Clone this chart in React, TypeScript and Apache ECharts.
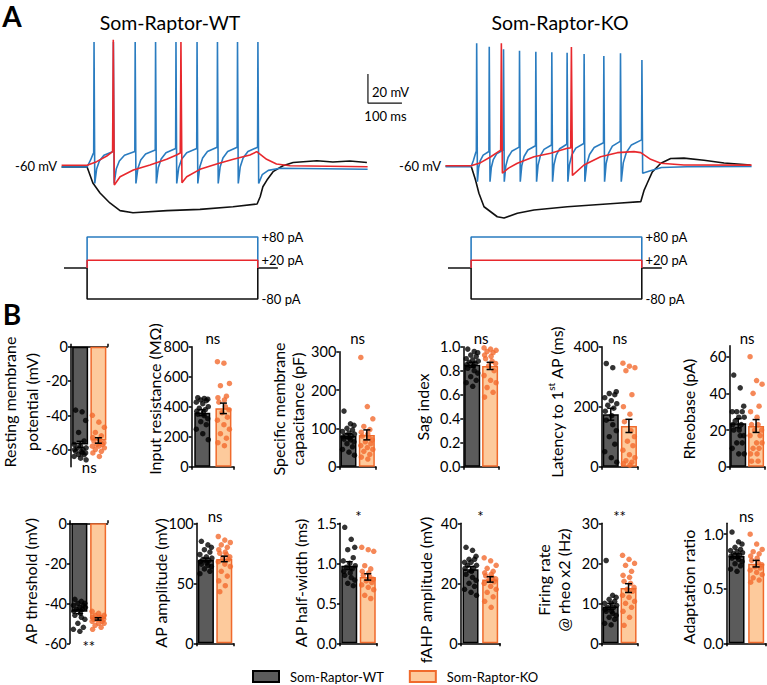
import React, { useEffect, useRef } from 'react';
import * as echarts from 'echarts';

const FONT = 'Lato, "Open Sans", sans-serif';
const BLUE = '#2a7cc0';
const RED = '#e8282d';
const INK = '#111111';
const WT_FILL = '#5b5b5b';
const KO_FILL = '#fdca9c';
const KO_EDGE = '#f06a2c';
const KO_DOT = '#f26a2e';

// ---------------- Panel A : voltage traces (ms, mV) ----------------
const stepOnMs = 65;
const stepOffMs = 567;

// WT, +80 pA (blue)
const wtBlueSpikeTimes = [85, 142, 206, 266, 326, 388, 448, 507, 567];
const wtBlueSpikePeaks = [25.5, 25.5, 25.5, 25.5, 25.5, 25.5, 25.5, 25.5, 25.5];
const wtBlueThresholds = [-51, -50, -50, -49, -48, -48, -47, -47, -47];
const wtBlueTroughs = [-72, -72, -72, -72, -72, -72, -72, -72, -72];
const wtBlueBefore: [number, number][] = [[-10, -60.7], [65, -60.7], [75, -56], [83, -51.5]];
const wtBlueAfter: [number, number][] = [[580, -66], [598, -63], [632, -61.5], [890, -62.2]];

// KO, +80 pA (blue)
const koBlueSpikeTimes = [81, 118, 160, 207, 255, 302, 347, 397, 455, 504, 567];
const koBlueSpikePeaks = [24.6, 22.3, 20.5, 19.5, 18.8, 18.4, 18.1, 17.2, 15.9, 17.7, 13.1];
const koBlueThresholds = [-50, -50, -49, -47, -46, -45.5, -45, -44.5, -44, -43, -42];
const koBlueTroughs = [-70.8, -70.8, -70.8, -70.8, -70.8, -70.8, -70.8, -70.8, -70.8, -70.8, -65];
const koBlueBefore: [number, number][] = [[-10, -60.5], [65, -60.5], [72, -56], [79, -50.5]];
const koBlueAfter: [number, number][] = [[590, -63.5], [625, -61], [700, -60.5], [890, -60.3]];

// +20 pA (red)
const wtRed: [number, number][] = [[-10, -59.5], [65, -59.5], [93, -57], [123, -53.1], [140, -50.1], [142, 27], [145, -73.1], [162, -67.4], [201, -62.8], [250, -59.3], [299, -55.4], [328, -52.4], [339, -51], [341, 25.5], [344, -71.5], [358, -67.4], [397, -62.3], [446, -58.6], [495, -55.4], [544, -52.4], [564, -50.1], [593, -55.4], [622, -58.6], [662, -59.8], [890, -60.5]];
const koRed: [number, number][] = [[-10, -59.8], [65, -59.8], [93, -57.7], [123, -53.6], [152, -49], [154, 24.6], [157, -65], [175, -61.5], [201, -58.1], [250, -53.6], [299, -51.2], [348, -47.8], [358, -47.5], [360, 22], [363, -66.5], [397, -59.3], [446, -53.6], [495, -50.8], [544, -50.1], [564, -50.8], [593, -55.4], [623, -58.1], [691, -59.3], [890, -59.4]];

// -80 pA (black)
const wtBlack: [number, number][] = [[-10, -60.7], [65, -60.7], [82, -71.7], [103, -78.6], [132, -85.5], [162, -90.8], [200, -92.2], [300, -90.8], [397, -89.9], [494, -88.1], [565, -86.2], [574, -81.2], [582, -74.3], [594, -69.7], [612, -63.9], [641, -59.8], [671, -57.6], [741, -56.4], [788, -57.2], [838, -56.6], [888, -57.6]];
const koBlack: [number, number][] = [[-10, -60], [65, -60], [78, -69.7], [88, -78.8], [103, -88.1], [142, -95], [162, -95.9], [201, -92.6], [250, -90.3], [348, -88.1], [495, -85.7], [564, -84.6], [574, -76.6], [583, -71.9], [598, -64.1], [623, -58.1], [652, -54.8], [691, -54.6], [750, -56], [809, -57.9], [887, -59.3]];

// current steps (pA)
const stimAmps = [-80, 80, 20];
const stimBaseStart = -3;
const stimBaseEnd = 626;

// scale bar
const scaleBarMv = 20;
const scaleBarMs = 100;
const scaleBarOrigin: [number, number] = [891, -16.6];

// ---------------- Panel B : data ----------------
const rmpWT = [-37, -38, -43, -50, -55, -57, -58, -59, -59, -60, -60, -61, -61, -62, -62, -63, -63, -64, -65, -66];
const rmpKO = [-40, -44, -47, -50, -52, -53, -54, -55, -56, -56, -57, -57, -58, -58, -59, -60, -61, -62, -64];
const rinWT = [460, 455, 450, 445, 440, 430, 420, 400, 390, 380, 370, 360, 350, 340, 320, 300, 280, 250, 220, 180];
const rinKO = [700, 690, 555, 540, 470, 460, 445, 430, 400, 380, 360, 330, 310, 280, 250, 220, 190, 160, 140];
const capWT = [145, 112, 108, 100, 96, 92, 88, 85, 82, 80, 78, 75, 72, 70, 65, 60, 52, 45, 38, 30];
const capKO = [285, 157, 125, 105, 97, 90, 85, 80, 75, 70, 65, 60, 55, 50, 45, 40, 32, 25, 20];
const sagWT = [0.98, 0.96, 0.95, 0.93, 0.92, 0.9, 0.89, 0.88, 0.87, 0.86, 0.85, 0.84, 0.82, 0.8, 0.78, 0.75, 0.72, 0.7, 0.67];
const sagKO = [0.99, 0.98, 0.97, 0.96, 0.95, 0.93, 0.92, 0.9, 0.88, 0.86, 0.84, 0.8, 0.76, 0.72, 0.7, 0.66, 0.62, 0.58];
const latWT = [344, 330, 250, 244, 240, 230, 220, 210, 205, 195, 185, 170, 155, 140, 120, 100, 75, 50, 30, 15];
const latKO = [345, 335, 330, 320, 240, 200, 175, 150, 120, 100, 85, 70, 55, 40, 30, 20, 15, 10, 5];
const rheoWT = [50, 43, 33, 30, 30, 30, 27, 27, 25, 23, 23, 20, 20, 17, 17, 13, 13, 10, 7, 7];
const rheoKO = [60, 47, 45, 40, 33, 30, 27, 23, 23, 20, 20, 17, 17, 13, 13, 10, 10, 7, 7, 3, 3];
const thrWT = [-38, -39, -40, -40, -41, -41, -42, -42, -43, -43, -44, -45, -46, -47, -48, -50, -52, -53, -54];
const thrKO = [-44, -45, -46, -46, -47, -47, -47, -48, -48, -48, -48, -49, -49, -50, -50, -51, -52, -53];
const ampWT = [85, 82, 80, 78, 76, 74, 72, 71, 70, 69, 68, 67, 66, 65, 64, 62, 60, 58];
const ampKO = [89, 86, 84, 82, 80, 78, 76, 75, 74, 72, 71, 70, 68, 66, 64, 60, 56, 52, 48, 43];
const hwWT = [1.45, 1.3, 1.2, 1.17, 1.07, 1.03, 1.0, 0.97, 0.95, 0.93, 0.9, 0.88, 0.85, 0.82, 0.79, 0.75, 0.72];
const hwKO = [1.2, 1.17, 1.15, 0.97, 0.93, 0.9, 0.88, 0.85, 0.83, 0.8, 0.78, 0.76, 0.73, 0.7, 0.67, 0.6, 0.56];
const fahpWT = [32, 31, 29, 28, 28, 27, 27, 26, 26, 25, 25, 24, 23, 22, 21, 20, 19, 18, 17, 16];
const fahpKO = [28.5, 27.5, 26, 25, 24, 23.5, 23, 22.5, 22, 21.5, 21, 20.5, 20, 19, 18, 17, 15.5, 14, 12];
const frWT = [20.7, 12, 11.5, 11, 10.5, 10, 10, 9.5, 9, 9, 8.5, 8, 8, 7.5, 7, 6.5, 6, 5, 4.6];
const frKO = [22, 21, 20, 19.5, 18, 17, 16.5, 15.5, 15, 14, 13.5, 13, 12, 11.5, 10.5, 10, 9, 8, 6.5, 4.5];
const adWT = [1.02, 0.93, 0.91, 0.88, 0.86, 0.85, 0.84, 0.83, 0.82, 0.81, 0.8, 0.79, 0.78, 0.77, 0.75, 0.73, 0.71, 0.68, 0.66];
const adKO = [1.0, 0.91, 0.86, 0.84, 0.82, 0.8, 0.78, 0.76, 0.74, 0.72, 0.7, 0.69, 0.67, 0.65, 0.63, 0.6, 0.58, 0.56];

const meansWT = [-57, 360, 80, 0.85, 175, 23.7, -44.2, 69.4, 0.97, 24.7, 9.2, 0.8];
const meansKO = [-54.7, 389, 83, 0.84, 136, 22.2, -47.8, 70.3, 0.83, 21.3, 13.8, 0.73];
const semWT = [1.8, 20, 6, 0.02, 20, 2.5, 1.0, 1.6, 0.05, 0.9, 0.8, 0.02];
const semKO = [1.6, 35, 13, 0.03, 22, 3.5, 0.6, 2.3, 0.04, 0.9, 1.1, 0.03];

const metricLabels = [
  'Resting membrane\npotential (mV)', 'Input resistance (MΩ)', 'Specific membrane\ncapacitance (pF)', 'Sag index',
  'Latency to 1{s|st} AP (ms)', 'Rheobase (pA)', 'AP threshold (mV)', 'AP amplitude (mV)',
  'AP half-width (ms)', 'fAHP amplitude (mV)', 'Firing rate\n@ rheo x2 (Hz)', 'Adaptation ratio',
];
const significance = ['ns', 'ns', 'ns', 'ns', 'ns', 'ns', '**', 'ns', '*', '*', '**', 'ns'];
const yMins = [-70, 0, 0, 0, 0, 0, -60, 0, 0, 0, 0, 0];
const yMaxs = [0, 800, 300, 1, 400, 66, 0, 100, 1.5, 40, 30, 1.1];
const yTicks = [
  [-60, -40, -20, 0], [0, 200, 400, 600, 800], [0, 100, 200, 300], [0, 0.2, 0.4, 0.6, 0.8, 1],
  [0, 200, 400], [0, 20, 40, 60], [-60, -40, -20, 0], [0, 50, 100],
  [0, 0.5, 1, 1.5], [0, 20, 40], [0, 10, 20, 30], [0, 0.5, 1],
];
const tickDecimals = [0, 0, 0, 1, 0, 0, 0, 0, 1, 0, 0, 1];
const groupNames = ['Som-Raptor-WT', 'Som-Raptor-KO'];

const pointsWT = [rmpWT, rinWT, capWT, sagWT, latWT, rheoWT, thrWT, ampWT, hwWT, fahpWT, frWT, adWT];
const pointsKO = [rmpKO, rinKO, capKO, sagKO, latKO, rheoKO, thrKO, ampKO, hwKO, fahpKO, frKO, adKO];

// ---------------- layout (pixels) ----------------
const bLayout = [
  { axisX: 71, right: 107.5, top: 346.7, bottom: 466.7, nameX: 20.5, nameY: 402, lh: 22, sigY: 467 },
  { axisX: 191.7, right: 234, top: 346.7, bottom: 466.7, nameX: 154, nameY: 399, lh: 20, sigY: 338 },
  { axisX: 339.3, right: 376, top: 351.7, bottom: 466.7, nameX: 287.5, nameY: 409, lh: 19, sigY: 338 },
  { axisX: 463.3, right: 499, top: 346.7, bottom: 466.7, nameX: 422.5, nameY: 407, lh: 20, sigY: 338 },
  { axisX: 601.7, right: 638, top: 346.7, bottom: 466.7, nameX: 556, nameY: 402, lh: 20, sigY: 338 },
  { axisX: 729.3, right: 765, top: 345.7, bottom: 466.7, nameX: 688, nameY: 409, lh: 20, sigY: 338 },
  { axisX: 70, right: 107.5, top: 523.3, bottom: 643.3, nameX: 30, nameY: 581, lh: 20, sigY: 646 },
  { axisX: 196.7, right: 233.5, top: 523.3, bottom: 643.3, nameX: 160, nameY: 583, lh: 20, sigY: 516 },
  { axisX: 340, right: 377, top: 523.3, bottom: 643.3, nameX: 300, nameY: 583, lh: 20, sigY: 516 },
  { axisX: 460.7, right: 500, top: 523.3, bottom: 643.3, nameX: 425, nameY: 590, lh: 20, sigY: 516 },
  { axisX: 601.7, right: 637.5, top: 523.3, bottom: 643.3, nameX: 553.3, nameY: 580, lh: 20, sigY: 516 },
  { axisX: 726.7, right: 766, top: 523.3, bottom: 643.3, nameX: 688, nameY: 587, lh: 20, sigY: 516 },
];
const JITTER = [-4.5, 2, 5.5, -1.5, 4, -6, 0.5, 6, -3, 3, -5.5, 1];

type Pt = [number, number];
function spikeTrain(pre: Pt[], times: number[], peaks: number[], thr: number[], troughs: number[], post: Pt[]): Pt[] {
  const out: Pt[] = [...pre];
  const frac = [0.1, 0.25, 0.5];
  const rise = [0.45, 0.7, 0.88];
  times.forEach((t, i) => {
    out.push([t - 0.6, thr[i]]);
    out.push([t + 0.4, peaks[i]]);
    out.push([t + 2.6, troughs[i]]);
    if (i < times.length - 1) {
      const t0 = t + 2.6;
      const t1 = times[i + 1] - 0.6;
      const v0 = troughs[i];
      const v1 = thr[i + 1];
      frac.forEach((f, k) => out.push([t0 + (t1 - t0) * f, v0 + (v1 - v0) * rise[k]]));
    }
  });
  return out.concat(post);
}

function stimLine(amp: number): Pt[] {
  return [[stepOnMs, 0], [stepOnMs, amp], [stepOffMs, amp], [stepOffMs, 0]];
}

function buildOption() {
  const grids: any[] = [];
  const xAxes: any[] = [];
  const yAxes: any[] = [];
  const series: any[] = [];
  const graphics: any[] = [];
  const txt = (text: string, x: number, y: number, size: number, align = 'center', extra: any = {}) => ({
    type: 'text', x, y, silent: true, rotation: extra.rotation || 0,
    style: { text, fill: '#000', fontSize: size, fontFamily: FONT, textAlign: align, textVerticalAlign: 'middle', ...(extra.style || {}) },
  });

  bLayout.forEach((L, i) => {
    grids.push({ left: L.axisX, top: L.top, width: L.right - L.axisX, height: L.bottom - L.top, containLabel: false });
    const neg = yMaxs[i] <= 0;
    xAxes.push({
      type: 'category', gridIndex: i, data: ['WT', 'KO'],
      axisLine: { onZero: true, lineStyle: { color: '#000', width: 1.5 } },
      axisTick: { show: true, length: 3, inside: neg, lineStyle: { color: '#000', width: 1.5 } },
      axisLabel: { show: false }, splitLine: { show: false },
    });
    const dec = tickDecimals[i];
    yAxes.push({
      type: 'value', gridIndex: i, min: yMins[i], max: yMaxs[i],
      axisLine: { show: true, onZero: false, lineStyle: { color: '#000', width: 1.5 } },
      axisTick: { show: true, length: 3, customValues: yTicks[i], lineStyle: { color: '#000', width: 1.5 } },
      axisLabel: {
        customValues: yTicks[i], fontSize: 14.5, color: '#000', fontFamily: FONT, margin: 3,
        formatter: (v: number) => v.toFixed(dec),
      },
      splitLine: { show: false },
    });
    series.push({
      type: 'bar', name: groupNames[0], xAxisIndex: i, yAxisIndex: i, data: [meansWT[i], '-'],
      barWidth: 16, barGap: '-100%', z: 2,
      itemStyle: { color: WT_FILL, borderColor: '#000', borderWidth: 1.5 },
    });
    series.push({
      type: 'bar', name: groupNames[1], xAxisIndex: i, yAxisIndex: i, data: ['-', meansKO[i]],
      barWidth: 16, barGap: '-100%', z: 2,
      itemStyle: { color: KO_FILL, borderColor: KO_EDGE, borderWidth: 1.5 },
    });
    series.push({
      type: 'scatter', name: 'wt-cells-' + i, xAxisIndex: i, yAxisIndex: i, symbolSize: 5.5, z: 3,
      itemStyle: { color: '#000' },
      data: pointsWT[i].map((v, k) => ({ value: [0, v], symbolOffset: [JITTER[k % JITTER.length], 0] })),
    });
    series.push({
      type: 'scatter', name: 'ko-cells-' + i, xAxisIndex: i, yAxisIndex: i, symbolSize: 5.5, z: 3,
      itemStyle: { color: KO_DOT },
      data: pointsKO[i].map((v, k) => ({ value: [1, v], symbolOffset: [JITTER[(k + 5) % JITTER.length], 0] })),
    });
    series.push({
      type: 'custom', name: 'sem-' + i, xAxisIndex: i, yAxisIndex: i, z: 4,
      data: [[0, meansWT[i], semWT[i]], [1, meansKO[i], semKO[i]]],
      encode: { x: 0, y: 1 },
      renderItem: (_p: any, api: any) => {
        const x = api.value(0);
        const m = api.value(1);
        const s = api.value(2);
        const a = api.coord([x, m + s]);
        const b = api.coord([x, m - s]);
        const st = { stroke: '#000', lineWidth: 1.5 };
        return {
          type: 'group', children: [
            { type: 'line', shape: { x1: a[0], y1: a[1], x2: b[0], y2: b[1] }, style: st },
            { type: 'line', shape: { x1: a[0] - 3.5, y1: a[1], x2: a[0] + 3.5, y2: a[1] }, style: st },
            { type: 'line', shape: { x1: b[0] - 3.5, y1: b[1], x2: b[0] + 3.5, y2: b[1] }, style: st },
          ],
        };
      },
    });
    const hasRich = metricLabels[i].indexOf('{s|') >= 0;
    graphics.push(txt(metricLabels[i], L.nameX, L.nameY, 16, 'center', {
      rotation: Math.PI / 2,
      style: hasRich
        ? { lineHeight: L.lh, rich: { s: { fontSize: 10, fontFamily: FONT, fill: '#000', verticalAlign: 'top', lineHeight: 12 } } }
        : { lineHeight: L.lh },
    }));
    graphics.push(txt(significance[i], (L.axisX + L.right) / 2, L.sigY, 15));
  });

  // ----- panel A grids -----
  const px = 0.34; // px per ms
  const aLeft = [65 - 10 * px, 449 - 10 * px];
  const aMax = [1000, 900];
  const yTop = 35.5;
  const yH = 188.5;
  for (let k = 0; k < 2; k++) {
    const gi = 12 + k;
    grids.push({ left: aLeft[k], top: yTop, width: (aMax[k] + 10) * px, height: yH });
    xAxes.push({ type: 'value', gridIndex: gi, min: -10, max: aMax[k], show: false });
    yAxes.push({ type: 'value', gridIndex: gi, min: -100, max: 30, show: false });
  }
  for (let k = 0; k < 2; k++) {
    const gi = 14 + k;
    grids.push({ left: aLeft[k], top: 268 - 100 * 0.3875, width: (aMax[k] + 10) * px, height: 200 * 0.3875 });
    xAxes.push({ type: 'value', gridIndex: gi, min: -10, max: aMax[k], show: false });
    yAxes.push({ type: 'value', gridIndex: gi, min: -100, max: 100, show: false });
  }
  const trace = (gi: number, data: Pt[], color: string, z: number) => ({
    type: 'line', xAxisIndex: gi, yAxisIndex: gi, data, showSymbol: false, symbol: 'none',
    lineStyle: { color, width: 1.6 }, z, silent: true,
  });
  series.push(trace(12, wtBlack, INK, 5));
  series.push(trace(12, spikeTrain(wtBlueBefore, wtBlueSpikeTimes, wtBlueSpikePeaks, wtBlueThresholds, wtBlueTroughs, wtBlueAfter), BLUE, 6));
  series.push(trace(12, wtRed, RED, 7));
  series.push(trace(13, koBlack, INK, 5));
  series.push(trace(13, spikeTrain(koBlueBefore, koBlueSpikeTimes, koBlueSpikePeaks, koBlueThresholds, koBlueTroughs, koBlueAfter), BLUE, 6));
  series.push(trace(13, koRed, RED, 7));
  // scale bar
  series.push({
    type: 'line', xAxisIndex: 12, yAxisIndex: 12, showSymbol: false, symbol: 'none', silent: true,
    lineStyle: { color: INK, width: 1.2 },
    data: [[scaleBarOrigin[0], scaleBarOrigin[1] + scaleBarMv], scaleBarOrigin, [scaleBarOrigin[0] + scaleBarMs, scaleBarOrigin[1]]],
  });
  // stimulus steps
  const stimColors = [INK, BLUE, RED];
  for (let k = 0; k < 2; k++) {
    const gi = 14 + k;
    series.push(trace(gi, [[stimBaseStart, 0], [stepOnMs, 0]], INK, 5));
    series.push(trace(gi, [[stepOffMs, 0], [stimBaseEnd, 0]], INK, 5));
    stimAmps.forEach((a, j) => series.push(trace(gi, stimLine(a), stimColors[j], 6 + j)));
  }

  // ----- panel A texts -----
  graphics.push(txt('A', 12, 16, 28, 'center', { style: { fontWeight: 'bold' } }));
  graphics.push(txt('B', 12, 314, 28, 'center', { style: { fontWeight: 'bold' } }));
  graphics.push(txt('Som-Raptor-WT', 170, 22, 19.5));
  graphics.push(txt('Som-Raptor-KO', 560, 22, 19.5));
  graphics.push(txt('-60 mV', 57, 166, 13, 'right'));
  graphics.push(txt('-60 mV', 441, 166, 13, 'right'));
  graphics.push(txt('20 mV', 372, 92, 13, 'left'));
  graphics.push(txt('100 ms', 385.5, 116, 13, 'center'));
  const stimLbl = ['+80 pA', '+20 pA', '-80 pA'];
  const stimLblY = [237.3, 259.7, 299];
  [261.5, 645.5].forEach((x) => stimLbl.forEach((s, j) => graphics.push(txt(s, x, stimLblY[j], 13, 'left'))));

  return {
    animation: false,
    backgroundColor: '#ffffff',
    textStyle: { fontFamily: FONT },
    legend: {
      data: groupNames, left: 252, top: 670, padding: 0, icon: 'rect', itemWidth: 26, itemHeight: 11, itemGap: 25,
      textStyle: { fontSize: 13, fontFamily: FONT, color: '#000', padding: [0, 0, 0, 6] },
      selectedMode: false,
    },
    grid: grids,
    xAxis: xAxes,
    yAxis: yAxes,
    series,
    graphic: { elements: graphics },
  };
}

export default function App() {
  const ref = useRef<HTMLDivElement>(null);
  useEffect(() => {
    if (!ref.current) return;
    const chart = echarts.init(ref.current, null, { renderer: 'svg' });
    chart.setOption(buildOption() as any);
    return () => chart.dispose();
  }, []);
  return <div ref={ref} style={{ position: 'fixed', left: 0, top: 0, width: 767, height: 685, background: '#fff' }} />;
}
